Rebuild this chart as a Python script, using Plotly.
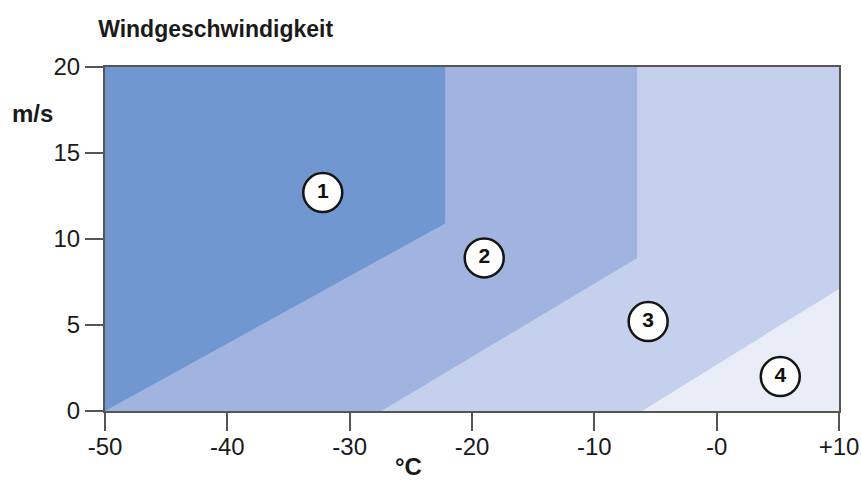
import plotly.graph_objects as go

# Temperature axis (°C) and wind speed axis (m/s)
x_ticks = [-50, -40, -30, -20, -10, 0, 10]
x_tick_labels = ["-50", "-40", "-30", "-20", "-10", "-0", "+10"]
y_ticks = [0, 5, 10, 15, 20]

# Lower-right boundary of zones 1-3 (zone 4 fills the remaining corner)
zone1_x = [-50, -22.2, -22.2]
zone1_y = [0, 10.9, 20]
zone2_x = [-27.4, -6.5, -6.5]
zone2_y = [0, 8.9, 20]
zone3_x = [-6.1, 10, 10]
zone3_y = [0, 7.1, 20]

zone_colors = ["#7197d0", "#a0b4df", "#c5d0ec", "#e9edf8"]

# Zone number markers
label_names = ["1", "2", "3", "4"]
label_x = [-32.2, -19.0, -5.6, 5.2]
label_y = [12.7, 8.9, 5.2, 2.0]

X_MIN, X_MAX = -50, 10
Y_MIN, Y_MAX = 0, 20

fig = go.Figure()

# zone 4: whole plot area as the lightest background
fig.add_trace(go.Scatter(
    x=[X_MIN, X_MAX, X_MAX, X_MIN, X_MIN],
    y=[Y_MIN, Y_MIN, Y_MAX, Y_MAX, Y_MIN],
    fill="toself", fillcolor=zone_colors[3], mode="none",
    hoverinfo="skip", showlegend=False,
))

# zones 3, 2, 1 layered on top, each bounded by its edge and the top-left corner
for bx, by, col in [(zone3_x, zone3_y, zone_colors[2]),
                    (zone2_x, zone2_y, zone_colors[1]),
                    (zone1_x, zone1_y, zone_colors[0])]:
    px = [X_MIN] + bx + [X_MIN, X_MIN]
    py = [Y_MIN] + by + [Y_MAX, Y_MIN]
    fig.add_trace(go.Scatter(
        x=px, y=py, fill="toself", fillcolor=col, mode="none",
        hoverinfo="skip", showlegend=False,
    ))

fig.add_trace(go.Scatter(
    x=label_x, y=label_y, mode="markers+text",
    text=label_names, textposition="middle center",
    textfont=dict(family="Liberation Sans", size=21, color="#111111", weight="bold"),
    marker=dict(size=39, color="white", line=dict(color="#151515", width=2.5)),
    hoverinfo="skip", showlegend=False,
))

axis_font = dict(family="Liberation Sans", size=24, color="#1a1a1a")

fig.update_xaxes(
    range=[X_MIN, X_MAX], tickvals=x_ticks, ticktext=x_tick_labels,
    showgrid=False, zeroline=False, automargin=False,
    showline=True, linecolor="#555555", linewidth=2, mirror=True,
    ticks="outside", ticklen=18, tickwidth=2, tickcolor="#555555",
    tickfont=axis_font, ticklabelstandoff=-5,
)
fig.update_yaxes(
    range=[Y_MIN, Y_MAX], tickvals=y_ticks,
    showgrid=False, zeroline=False, automargin=False,
    showline=True, linecolor="#555555", linewidth=2, mirror=True,
    ticks="outside", ticklen=18, tickwidth=2, tickcolor="#555555",
    tickfont=axis_font,
)

bold = dict(family="Liberation Sans", size=24, color="#1a1a1a", weight="bold")

fig.update_layout(
    width=861, height=480,
    margin=dict(l=105, r=22, t=67, b=69),
    paper_bgcolor="white", plot_bgcolor="white",
    title=dict(
        text="Windgeschwindigkeit", xref="container", yref="container",
        x=0.114, y=0.94, xanchor="left", yanchor="middle",
        font=dict(family="Liberation Sans", size=23, color="#1a1a1a", weight="bold"),
    ),
    annotations=[
        dict(text="m/s", xref="paper", yref="paper", x=-0.13, y=0.866,
             xanchor="left", yanchor="middle", showarrow=False, font=bold),
        dict(text="°C", xref="paper", yref="paper", x=0.413, y=-0.16,
             xanchor="center", yanchor="middle", showarrow=False, font=bold),
    ],
)

fig.write_html("out.html")
